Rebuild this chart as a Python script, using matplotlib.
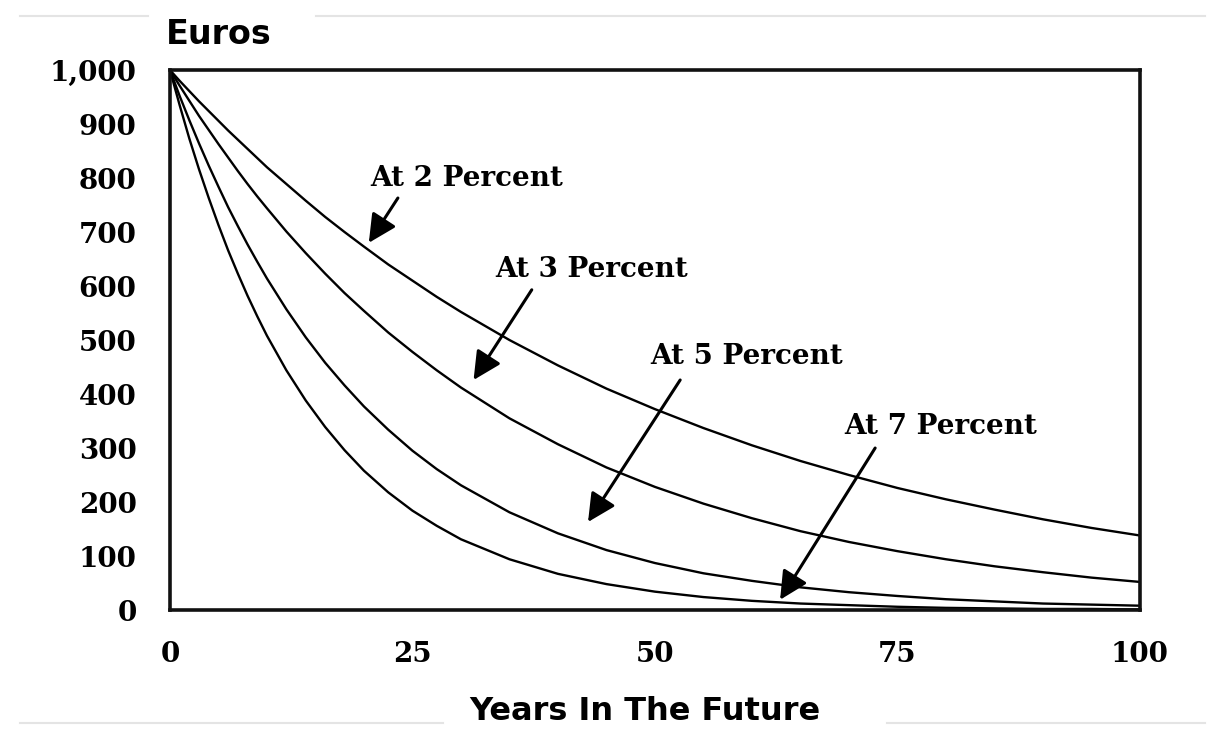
import matplotlib.pyplot as plt
from matplotlib.lines import Line2D

# years and present value of 1,000 euros
years = [0, 1, 2, 3, 4, 5, 6, 7, 8, 9, 10, 12, 14, 16, 18, 20, 22.5, 25, 27.5,
         30, 35, 40, 45, 50, 55, 60, 65, 70, 75, 80, 85, 90, 95, 100]
pct2 = [1000, 980, 961, 942, 924, 906, 888, 871, 854, 837, 820, 789, 758, 728,
        700, 673, 640, 610, 580, 552, 500, 453, 410, 372, 337, 305, 276, 250,
        226, 205, 186, 168, 152, 138]
pct3 = [1000, 971, 943, 915, 889, 863, 838, 813, 789, 766, 744, 701, 661, 623,
        587, 554, 514, 478, 444, 412, 355, 307, 264, 228, 197, 170, 146, 126,
        109, 94, 81, 70, 60, 52]
pct5 = [1000, 952, 907, 864, 823, 784, 746, 711, 677, 645, 614, 557, 505, 458,
        416, 377, 334, 295, 261, 231, 181, 142, 111, 87, 68, 54, 42, 33,
        26, 20, 16, 12, 10, 8]
pct7 = [1000, 935, 873, 816, 763, 713, 666, 623, 582, 544, 508, 444, 388, 339,
        296, 258, 218, 184, 156, 131, 94, 67, 48, 34, 24, 17, 12, 9,
        6, 4, 3, 2, 2, 1]

labels = ["At 2 Percent", "At 3 Percent", "At 5 Percent", "At 7 Percent"]
label_xy = [(30.6, 800), (43.5, 630), (59.5, 469), (79.5, 339)]
arrow_tail = [(23.5, 763), (37.3, 593), (52.6, 426), (72.7, 300)]
arrow_head = [(20.5, 680), (31.3, 426), (43.1, 163), (62.9, 19)]

xticks = [0, 25, 50, 75, 100]
yticks = list(range(0, 1001, 100))

serif = "DejaVu Serif"

fig = plt.figure(figsize=(12.13, 7.31), dpi=100)
ax = fig.add_axes([0.1401, 0.1655, 0.7997, 0.7387])

for s in [pct2, pct3, pct5, pct7]:
    ax.plot(years, s, color="black", lw=1.7, solid_joinstyle="round")

ax.set_xlim(0, 100)
ax.set_ylim(0, 1000)
ax.set_xticks(xticks)
ax.set_yticks(yticks)
ax.set_xticklabels([str(t) for t in xticks], family=serif, weight="bold", fontsize=20)
ax.set_yticklabels([f"{t:,}" for t in yticks], family=serif, weight="bold", fontsize=20)
ax.tick_params(axis="both", length=0)
ax.tick_params(axis="x", pad=22)
ax.tick_params(axis="y", pad=24)
for sp in ax.spines.values():
    sp.set_linewidth(2.6)
    sp.set_color("#111111")

for lab, txy, tail, head in zip(labels, label_xy, arrow_tail, arrow_head):
    ax.text(txy[0], txy[1], lab, family=serif, weight="bold", fontsize=20,
            ha="center", va="center")
    ax.annotate("", xy=head, xytext=tail,
                arrowprops=dict(arrowstyle="-|>,head_length=0.9,head_width=0.45",
                                mutation_scale=19, lw=2.2, color="black",
                                shrinkA=0, shrinkB=0))

fig.text(166 / 1213, 1 - 35 / 731, "Euros", family="DejaVu Sans", weight="bold",
         fontsize=24, ha="left", va="center")
fig.text(645 / 1213, 1 - 712 / 731, "Years In The Future", family="DejaVu Sans",
         weight="bold", fontsize=23, ha="center", va="center")

# faint page lines from the original screenshot
for x0, x1, y in [(20, 148, 16), (316, 1205, 16), (20, 443, 723), (887, 1205, 723)]:
    fig.add_artist(Line2D([x0 / 1213, x1 / 1213], [1 - y / 731, 1 - y / 731],
                          color="#e4e4e4", lw=1.5))

fig.savefig("out.png", dpi=100)
